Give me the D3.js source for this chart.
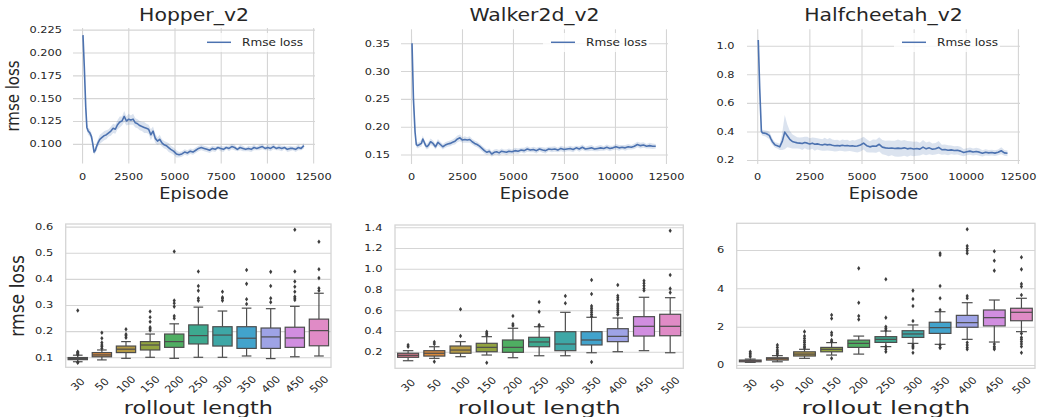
<!DOCTYPE html>
<html>
<head>
<meta charset="utf-8">
<script src="https://cdn.jsdelivr.net/npm/d3@7"></script>
<style>
  body { margin: 0; background: #fff; }
  text { font-family: "DejaVu Sans", sans-serif; fill: #262626; }
</style>
</head>
<body>
<script>
// ---- data: training curves (episode, mean rmse, half width of band) ----
const episodes = [50,120,200,260,330,420,510,580,650,720,
  780,860,960,1080,1200,1320,1440,1560,1680,1800,
  1920,2040,2160,2280,2400,2520,2640,2760,2880,3000,
  3120,3240,3360,3480,3600,3720,3840,3960,4080,4200,
  4320,4440,4560,4680,4800,4950,5100,5250,5400,5550,
  5700,5850,6000,6150,6300,6450,6600,6750,6900,7050,
  7200,7350,7500,7650,7800,7950,8100,8250,8400,8550,
  8700,8850,9000,9150,9300,9450,9600,9750,9900,10050,
  10200,10350,10500,10650,10800,10950,11100,11250,11400,11550,
  11700,11850,12000];

const hopperMean = [0.219,0.185,0.140,0.118,0.114,0.112,0.108,0.100,0.091,0.093,
  0.097,0.101,0.105,0.107,0.109,0.110,0.112,0.114,0.117,0.116,
  0.121,0.124,0.125,0.130,0.125,0.127,0.126,0.127,0.123,0.122,
  0.120,0.119,0.118,0.117,0.116,0.110,0.114,0.106,0.103,0.105,
  0.101,0.099,0.098,0.096,0.094,0.092,0.089,0.088,0.089,0.091,
  0.090,0.092,0.091,0.093,0.095,0.096,0.095,0.094,0.093,0.095,
  0.094,0.096,0.095,0.094,0.096,0.095,0.097,0.096,0.094,0.096,
  0.095,0.094,0.095,0.094,0.096,0.095,0.096,0.097,0.095,0.096,
  0.095,0.097,0.095,0.096,0.095,0.096,0.094,0.095,0.095,0.094,
  0.096,0.095,0.098];
const hopperErr = [0.003,0.004,0.004,0.004,0.004,0.004,0.004,0.004,0.003,0.003,
  0.004,0.004,0.005,0.005,0.005,0.005,0.004,0.005,0.005,0.005,
  0.005,0.006,0.005,0.006,0.005,0.006,0.005,0.006,0.005,0.005,
  0.005,0.005,0.006,0.005,0.005,0.006,0.005,0.005,0.004,0.005,
  0.004,0.004,0.004,0.005,0.004,0.004,0.004,0.003,0.003,0.003,
  0.003,0.003,0.003,0.003,0.003,0.003,0.003,0.003,0.003,0.003,
  0.003,0.002,0.003,0.003,0.002,0.003,0.003,0.003,0.002,0.003,
  0.003,0.002,0.003,0.003,0.003,0.002,0.003,0.003,0.002,0.003,
  0.003,0.003,0.002,0.003,0.003,0.002,0.003,0.003,0.002,0.003,
  0.003,0.002,0.003];

const walkerMean = [0.350,0.250,0.190,0.168,0.166,0.168,0.170,0.178,0.172,0.166,
  0.164,0.167,0.173,0.170,0.164,0.172,0.168,0.164,0.167,0.169,
  0.170,0.172,0.174,0.178,0.180,0.176,0.177,0.176,0.177,0.173,
  0.170,0.168,0.165,0.161,0.157,0.154,0.156,0.151,0.154,0.155,
  0.153,0.156,0.155,0.154,0.156,0.155,0.157,0.156,0.158,0.157,
  0.160,0.158,0.159,0.157,0.160,0.158,0.157,0.160,0.159,0.160,
  0.158,0.161,0.159,0.160,0.161,0.159,0.162,0.160,0.163,0.160,
  0.161,0.162,0.160,0.161,0.162,0.161,0.163,0.161,0.162,0.164,
  0.162,0.163,0.162,0.164,0.163,0.165,0.168,0.166,0.167,0.165,
  0.166,0.165,0.165];
const walkerErr = [0.015,0.010,0.006,0.005,0.005,0.005,0.006,0.006,0.005,0.005,
  0.005,0.006,0.006,0.005,0.005,0.006,0.005,0.005,0.005,0.005,
  0.005,0.005,0.006,0.006,0.006,0.005,0.006,0.005,0.006,0.005,
  0.005,0.005,0.005,0.005,0.005,0.005,0.005,0.005,0.005,0.005,
  0.005,0.005,0.004,0.005,0.005,0.004,0.005,0.005,0.004,0.005,
  0.005,0.004,0.005,0.005,0.004,0.005,0.005,0.004,0.005,0.005,
  0.004,0.005,0.005,0.004,0.005,0.005,0.004,0.005,0.005,0.004,
  0.005,0.005,0.004,0.005,0.005,0.004,0.005,0.005,0.004,0.005,
  0.005,0.004,0.005,0.005,0.004,0.005,0.005,0.005,0.005,0.004,
  0.005,0.005,0.004];

const cheetahMean = [1.040,0.700,0.400,0.390,0.388,0.385,0.378,0.372,0.350,0.330,
  0.318,0.305,0.300,0.292,0.330,0.395,0.370,0.345,0.330,0.325,
  0.320,0.318,0.315,0.322,0.318,0.312,0.318,0.310,0.313,0.308,
  0.305,0.310,0.306,0.309,0.303,0.300,0.302,0.299,0.303,0.300,
  0.301,0.298,0.300,0.296,0.298,0.305,0.318,0.300,0.292,0.298,
  0.296,0.310,0.290,0.285,0.282,0.284,0.280,0.283,0.280,0.285,
  0.278,0.282,0.277,0.280,0.276,0.290,0.278,0.285,0.275,0.279,
  0.288,0.272,0.274,0.268,0.271,0.266,0.268,0.262,0.252,0.258,
  0.262,0.256,0.260,0.255,0.247,0.254,0.250,0.252,0.248,0.254,
  0.265,0.250,0.247];
const cheetahErr = [0.060,0.040,0.020,0.020,0.020,0.022,0.025,0.025,0.025,0.022,
  0.020,0.020,0.020,0.022,0.060,0.120,0.080,0.060,0.050,0.045,
  0.040,0.040,0.045,0.040,0.045,0.040,0.040,0.045,0.040,0.040,
  0.040,0.045,0.040,0.045,0.040,0.040,0.040,0.035,0.040,0.040,
  0.040,0.035,0.040,0.040,0.045,0.045,0.045,0.045,0.040,0.045,
  0.045,0.050,0.050,0.050,0.055,0.050,0.055,0.060,0.055,0.055,
  0.055,0.050,0.050,0.050,0.045,0.050,0.045,0.045,0.040,0.040,
  0.045,0.035,0.035,0.035,0.030,0.030,0.030,0.030,0.025,0.025,
  0.025,0.025,0.025,0.025,0.022,0.022,0.020,0.020,0.020,0.020,
  0.025,0.020,0.020];

const episodeTicks = [0, 2500, 5000, 7500, 10000, 12500];
const hopperTicks = [0.100, 0.125, 0.150, 0.175, 0.200, 0.225];
const walkerTicks = [0.15, 0.20, 0.25, 0.30, 0.35];
const cheetahTicks = [0.2, 0.4, 0.6, 0.8, 1.0];

// ---- data: rollout-length box plots [whisker low, q1, median, q3, whisker high] ----
const rolloutLengths = ['30','50','100','150','200','250','300','350','400','450','500'];

const hopperBoxes = [
  [0.083,0.091,0.095,0.099,0.108], [0.090,0.102,0.109,0.118,0.128],
  [0.096,0.118,0.131,0.143,0.160], [0.100,0.128,0.147,0.160,0.189],
  [0.096,0.138,0.160,0.189,0.228], [0.100,0.151,0.183,0.224,0.292],
  [0.100,0.143,0.185,0.217,0.277], [0.105,0.134,0.173,0.217,0.288],
  [0.095,0.134,0.178,0.212,0.286], [0.102,0.138,0.174,0.215,0.295],
  [0.105,0.144,0.202,0.246,0.345]];
const hopperFliers = [
  [0.110,0.113,0.116,0.119,0.121,0.081,0.079,0.279],
  [0.134,0.141,0.147,0.156,0.173,0.194],
  [0.175,0.182,0.188,0.207],
  [0.203,0.209,0.215,0.236,0.253,0.275],
  [0.249,0.258,0.294,0.307,0.317,0.505],
  [0.317,0.326,0.355,0.373,0.428],
  [0.317,0.325,0.330,0.351],
  [0.304,0.322,0.381,0.434],
  [0.311,0.326,0.373,0.427],
  [0.319,0.326,0.332,0.351,0.370,0.390,0.428,0.588],
  [0.355,0.364,0.403,0.437,0.542]];

const walkerBoxes = [
  [0.113,0.146,0.165,0.185,0.210], [0.136,0.158,0.185,0.210,0.248],
  [0.152,0.185,0.216,0.255,0.297], [0.168,0.200,0.242,0.281,0.345],
  [0.142,0.194,0.242,0.313,0.426], [0.161,0.248,0.294,0.339,0.441],
  [0.161,0.210,0.274,0.393,0.580], [0.190,0.265,0.313,0.393,0.532],
  [0.200,0.297,0.348,0.422,0.525], [0.210,0.351,0.445,0.538,0.725],
  [0.190,0.354,0.445,0.561,0.721]];
const walkerFliers = [
  [0.248,0.265],
  [0.104,0.275,0.294],
  [0.351,0.609],
  [0.094,0.361,0.377,0.393],
  [0.450,0.467,0.544],
  [0.450,0.457,0.586,0.680],
  [0.667,0.737],
  [0.101,0.540,0.560,0.580,0.600,0.620,0.640,0.757,0.892],
  [0.560,0.580,0.600,0.620,0.640,0.660,0.700,0.720,0.740,0.843],
  [0.790,0.810,0.835,0.860,0.885],
  [0.770,0.808,0.940,1.367]];

const cheetahBoxes = [
  [0.14,0.17,0.22,0.26,0.31], [0.17,0.26,0.33,0.38,0.49],
  [0.35,0.47,0.57,0.69,0.82], [0.52,0.69,0.82,0.92,1.17],
  [0.57,0.92,1.13,1.30,1.51], [0.96,1.18,1.34,1.48,1.77],
  [1.13,1.44,1.62,1.79,2.09], [1.08,1.65,1.95,2.23,2.78],
  [1.34,1.97,2.21,2.59,3.25], [1.20,2.04,2.47,2.87,3.39],
  [1.74,2.31,2.75,2.96,3.48]];
const cheetahFliers = [
  [0.43,0.52,0.61,0.69],
  [0.52,0.61,0.69,0.78,0.92,1.04],
  [0.89,0.96,1.06,1.17,1.27,1.39,1.51,1.74],
  [0.35,1.22,1.30,1.57,1.69,2.43,2.61],
  [2.38,2.56,3.25,5.04],
  [0.69,0.82,0.96,1.82,1.91,2.00,2.47,4.47],
  [0.64,0.89,0.96,1.04,2.30,3.08,3.44,3.88],
  [0.89,0.92,1.04,2.87,3.48,4.12,5.74,5.83],
  [0.82,0.92,1.04,1.17,3.48,3.60,5.83,5.96,6.08,6.21,7.08],
  [0.82,0.89,0.97,1.10,4.92,5.44,5.93],
  [0.64,0.97,1.10,1.22,1.34,1.44,1.65,3.65,4.09,4.23,4.99,5.62]];

const hopperBoxTicks = [0.1, 0.2, 0.3, 0.4, 0.5, 0.6];
const walkerBoxTicks = [0.2, 0.4, 0.6, 0.8, 1.0, 1.2, 1.4];
const cheetahBoxTicks = [0, 2, 4, 6];

const boxColors = ['#d9788c','#d98a3e','#b59a45','#92a340','#4fae62','#3da98f',
  '#3ea7a6','#42a3cc','#9ea3e6','#d18ee0','#e08bc6'];

// ---- drawing ----
const GRID = '#d5d5d5', BLUE = '#4c72b0', BOXLINE = '#4d4d4d';

let svg = d3
  .select('body')
  .append('svg')
  .attr('width', 1039)
  .attr('height', 417)
  .style('background-color', '#fff');

function styleTicks(axisG, size, transform) {
  axisG.select('.domain').remove();
  axisG.attr('font-family', null).attr('font-size', null);
  axisG.selectAll('text')
    .attr('fill', '#262626')
    .style('font-size', size + 'px')
    .attr('transform', transform);
}

function linePanel(p) {
  const x = d3.scaleLinear().domain([-490, 12600]).range([p.x0, p.x1]);
  const y = d3.scaleLinear().domain(p.yDomain).range([p.y1, p.y0]);
  const g = svg.append('g');
  const sx = 1.22;

  // grid lines
  g.append('g')
    .attr('transform', `translate(0,${p.y1})`)
    .call(d3.axisBottom(x).tickValues(episodeTicks).tickSize(-(p.y1 - p.y0)).tickFormat(''))
    .call(a => { a.select('.domain').remove(); a.selectAll('line').attr('stroke', GRID).attr('stroke-width', 1.1); });
  g.append('g')
    .attr('transform', `translate(${p.x0},0)`)
    .call(d3.axisLeft(y).tickValues(p.yTicks).tickSize(-(p.x1 - p.x0)).tickFormat(''))
    .call(a => { a.select('.domain').remove(); a.selectAll('line').attr('stroke', GRID).attr('stroke-width', 1.1); });

  // tick labels
  g.append('g')
    .attr('transform', `translate(0,${p.y1})`)
    .call(d3.axisBottom(x).tickValues(episodeTicks).tickSize(0).tickPadding(9.5).tickFormat(d3.format('d')))
    .call(a => styleTicks(a, 9.3, `scale(${sx},1)`));
  g.append('g')
    .attr('transform', `translate(${p.x0},0)`)
    .call(d3.axisLeft(y).tickValues(p.yTicks).tickSize(0).tickPadding(0).tickFormat(d3.format(p.fmt)))
    .call(a => styleTicks(a, 9.3, `translate(${-p.pad},0) scale(${sx},1)`));

  const rows = episodes.map((e, i) => ({ e: e, m: p.mean[i], s: p.err[i] }));

  // confidence band
  g.append('path')
    .datum(rows)
    .attr('fill', BLUE)
    .attr('fill-opacity', 0.2)
    .attr('d', d3.area().x(d => x(d.e)).y0(d => y(d.m - d.s)).y1(d => y(d.m + d.s)));

  // mean line
  g.append('path')
    .datum(rows)
    .attr('fill', 'none')
    .attr('stroke', BLUE)
    .attr('stroke-width', 1.6)
    .attr('stroke-linejoin', 'round')
    .attr('d', d3.line().x(d => x(d.e)).y(d => y(d.m)));

  // legend
  g.append('rect')
    .attr('x', p.legX - 8).attr('y', 33).attr('width', 106).attr('height', 19)
    .attr('fill', '#fff').attr('fill-opacity', 0.8);
  g.append('line')
    .attr('x1', p.legX).attr('x2', p.legX + 24).attr('y1', 42.3).attr('y2', 42.3)
    .attr('stroke', BLUE).attr('stroke-width', 1.5);
  g.append('text')
    .attr('transform', `translate(${p.legX + 35},45.8) scale(${sx},1)`)
    .style('font-size', '9.9px')
    .text('Rmse loss');

  // title and x label
  g.append('text')
    .attr('transform', `translate(${(p.x0 + p.x1) / 2},20.7) scale(1.2,1)`)
    .attr('text-anchor', 'middle')
    .style('font-size', '17px')
    .text(p.title);
  g.append('text')
    .attr('transform', `translate(${(p.x0 + p.x1) / 2},199.3) scale(1.18,1)`)
    .attr('text-anchor', 'middle')
    .style('font-size', '15px')
    .text('Episode');

  if (p.ylabel) {
    g.append('text')
      .attr('transform', `translate(18.5,96) scale(1.2,1) rotate(-90)`)
      .attr('text-anchor', 'middle')
      .style('font-size', '15px')
      .text('rmse loss');
  }
}

function diamond(cx, cy) {
  return `M${cx},${cy - 2.3}L${cx + 1.6},${cy}L${cx},${cy + 2.3}L${cx - 1.6},${cy}Z`;
}

function boxPanel(p) {
  const x = d3.scaleBand().domain(rolloutLengths).range([p.x0, p.x1]);
  const y = d3.scaleLinear().domain(p.yDomain).range([p.y1, p.y0]);
  const g = svg.append('g');
  const sx = 1.3;
  const bw = x.bandwidth() * 0.8;

  // horizontal grid
  g.append('g')
    .attr('transform', `translate(${p.x0},0)`)
    .call(d3.axisLeft(y).tickValues(p.yTicks).tickSize(-(p.x1 - p.x0)).tickFormat(''))
    .call(a => { a.select('.domain').remove(); a.selectAll('line').attr('stroke', GRID).attr('stroke-width', 1.1); });

  // y tick labels
  g.append('g')
    .attr('transform', `translate(${p.x0},0)`)
    .call(d3.axisLeft(y).tickValues(p.yTicks).tickSize(0).tickPadding(0).tickFormat(d3.format(p.fmt)))
    .call(a => styleTicks(a, 8.8, `translate(-12.5,0) scale(${sx},1)`));

  // rotated x tick labels
  g.append('g')
    .attr('transform', `translate(0,${p.y1})`)
    .call(d3.axisBottom(x).tickSize(0).tickPadding(0))
    .call(a => {
      styleTicks(a, 10, `translate(0,17) scale(1.12,1) rotate(-45)`);
      a.selectAll('text').attr('y', 0).attr('dy', '0.35em').attr('text-anchor', 'middle');
    });

  const boxes = g.selectAll('.box')
    .data(p.boxes)
    .enter()
    .append('g')
    .attr('class', 'box');

  boxes.each(function (d, i) {
    const b = d3.select(this);
    const cx = x(rolloutLengths[i]) + x.bandwidth() / 2;
    // whiskers
    b.append('line').attr('x1', cx).attr('x2', cx).attr('y1', y(d[0])).attr('y2', y(d[1]));
    b.append('line').attr('x1', cx).attr('x2', cx).attr('y1', y(d[3])).attr('y2', y(d[4]));
    // caps
    b.append('line').attr('x1', cx - bw / 4).attr('x2', cx + bw / 4).attr('y1', y(d[0])).attr('y2', y(d[0]));
    b.append('line').attr('x1', cx - bw / 4).attr('x2', cx + bw / 4).attr('y1', y(d[4])).attr('y2', y(d[4]));
    // box
    b.append('rect')
      .attr('x', cx - bw / 2).attr('width', bw)
      .attr('y', y(d[3])).attr('height', y(d[1]) - y(d[3]))
      .attr('fill', boxColors[i]);
    // median
    b.append('line').attr('x1', cx - bw / 2).attr('x2', cx + bw / 2).attr('y1', y(d[2])).attr('y2', y(d[2]));
    b.selectAll('line, rect').attr('stroke', BOXLINE).attr('stroke-width', 1.2);
    // fliers
    b.selectAll('.flier')
      .data(p.fliers[i])
      .enter()
      .append('path')
      .attr('class', 'flier')
      .attr('d', v => diamond(cx, y(v)))
      .attr('fill', '#3d3d3d');
  });

  // frame
  g.append('rect')
    .attr('x', p.x0).attr('y', p.y0)
    .attr('width', p.x1 - p.x0).attr('height', p.y1 - p.y0)
    .attr('fill', 'none').attr('stroke', GRID).attr('stroke-width', 1.3);

  g.append('text')
    .attr('transform', `translate(${(p.x0 + p.x1) / 2},414) scale(${p.labelScale},1)`)
    .attr('text-anchor', 'middle')
    .style('font-size', p.labelSize + 'px')
    .text('rollout length');

  if (p.ylabel) {
    g.append('text')
      .attr('transform', `translate(24,296) scale(1.12,1) rotate(-90)`)
      .attr('text-anchor', 'middle')
      .style('font-size', '17.2px')
      .text('rmse loss');
  }
}

linePanel({ title: 'Hopper_v2', x0: 73, x1: 315, y0: 28, y1: 163.5, yDomain: [0.0785, 0.2268],
  yTicks: hopperTicks, fmt: '.3f', pad: 11, mean: hopperMean, err: hopperErr, legX: 207, ylabel: true });
linePanel({ title: 'Walker2d_v2', x0: 401, x1: 668, y0: 29.3, y1: 164, yDomain: [0.133, 0.375],
  yTicks: walkerTicks, fmt: '.2f', pad: 11, mean: walkerMean, err: walkerErr, legX: 551 });
linePanel({ title: 'Halfcheetah_v2', x0: 747, x1: 1020, y0: 29.3, y1: 164, yDomain: [0.172, 1.115],
  yTicks: cheetahTicks, fmt: '.1f', pad: 12.5, mean: cheetahMean, err: cheetahErr, legX: 902 });

boxPanel({ x0: 65.7, x1: 331, y0: 224, y1: 367.3, yDomain: [0.0617, 0.610], yTicks: hopperBoxTicks,
  fmt: '.1f', boxes: hopperBoxes, fliers: hopperFliers, labelSize: 17, labelScale: 1.31, ylabel: true });
boxPanel({ x0: 395, x1: 683.3, y0: 225, y1: 368.3, yDomain: [0.04, 1.422], yTicks: walkerBoxTicks,
  fmt: '.1f', boxes: walkerBoxes, fliers: walkerFliers, labelSize: 17.5, labelScale: 1.39 });
boxPanel({ x0: 736.7, x1: 1035, y0: 223.3, y1: 368.3, yDomain: [-0.17, 7.39], yTicks: cheetahBoxTicks,
  fmt: 'd', boxes: cheetahBoxes, fliers: cheetahFliers, labelSize: 18, labelScale: 1.4 });
</script>
</body>
</html>
